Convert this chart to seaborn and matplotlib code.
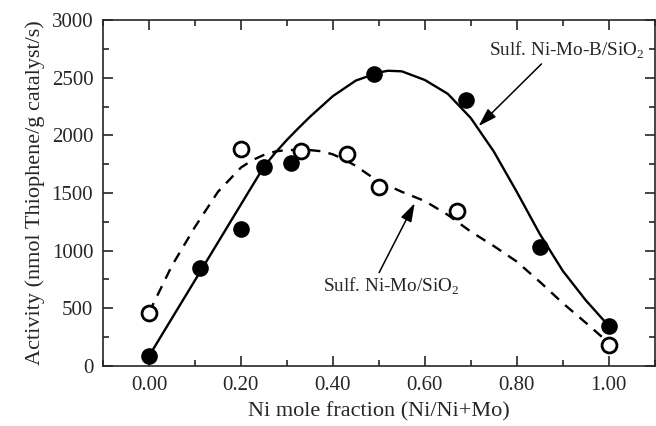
import numpy as np
import pandas as pd
import matplotlib
matplotlib.use("Agg")
import matplotlib.pyplot as plt
import seaborn as sns
from matplotlib.ticker import MultipleLocator, FormatStrFormatter

# Measured points
nimob_x = [0.00, 0.11, 0.20, 0.25, 0.31, 0.49, 0.69, 0.85, 1.00]
nimob_y = [85, 847, 1188, 1728, 1757, 2532, 2306, 1030, 347]
nimo_x = [0.00, 0.20, 0.33, 0.43, 0.50, 0.67, 1.00]
nimo_y = [462, 1879, 1867, 1840, 1555, 1347, 182]

# Fitted curves
fitb_x = [0.00, 0.05, 0.10, 0.15, 0.20, 0.25, 0.275, 0.30, 0.325, 0.35, 0.40,
          0.45, 0.50, 0.52, 0.55, 0.60, 0.65, 0.70, 0.75, 0.80, 0.85, 0.90,
          0.95, 1.00]
nimob_fit = [85, 414, 742, 1071, 1400, 1728, 1850, 1960, 2062, 2160, 2340,
             2475, 2545, 2560, 2555, 2480, 2360, 2150, 1860, 1510, 1145, 825,
             570, 347]
fita_x = [0.00, 0.05, 0.10, 0.15, 0.20, 0.225, 0.25, 0.275, 0.30, 0.35, 0.375,
          0.40, 0.425, 0.45, 0.475, 0.50, 0.55, 0.60, 0.65, 0.70, 0.75, 0.80,
          0.85, 0.90, 0.95, 1.00]
nimo_fit = [462, 870, 1205, 1510, 1720, 1785, 1830, 1860, 1873, 1872, 1862,
            1835, 1790, 1735, 1665, 1600, 1510, 1430, 1310, 1165, 1040, 905,
            730, 545, 375, 200]

label_b = "Sulf. Ni-Mo-B/SiO$_2$"
label_a = "Sulf. Ni-Mo/SiO$_2$"

sns.set_style("ticks")
plt.rcParams['font.family'] = ['Liberation Serif', 'DejaVu Serif']
plt.rcParams['mathtext.fontset'] = 'custom'
plt.rcParams['mathtext.rm'] = 'Liberation Serif'

fig = plt.figure(figsize=(6.56, 4.26), dpi=100)
ax = fig.add_axes([0.157, 0.141, 0.841, 0.812])

dfb = pd.DataFrame({"x": fitb_x, "y": nimob_fit})
dfa = pd.DataFrame({"x": fita_x, "y": nimo_fit})
sns.lineplot(data=dfb, x="x", y="y", ax=ax, color="black", lw=1.7)
sns.lineplot(data=dfa, x="x", y="y", ax=ax, color="black", lw=1.7)
ax.lines[-1].set_dashes([4.5, 3.5])

sns.scatterplot(x=nimob_x, y=nimob_y, ax=ax, s=120, color="black",
                edgecolor="black", linewidth=1.0, zorder=5)
sns.scatterplot(x=nimo_x, y=nimo_y, ax=ax, s=115, facecolor="white",
                edgecolor="black", linewidth=2.0, zorder=5)

ax.set_xlim(-0.1, 1.1)
ax.set_ylim(0, 3000)
ax.xaxis.set_major_locator(MultipleLocator(0.2))
ax.xaxis.set_minor_locator(MultipleLocator(0.1))
ax.xaxis.set_major_formatter(FormatStrFormatter('%.2f'))
ax.yaxis.set_major_locator(MultipleLocator(500))
ax.yaxis.set_minor_locator(MultipleLocator(250))
ax.tick_params(which='both', direction='in', top=True, right=True,
               width=1.2, labelsize=15, pad=7)
ax.tick_params(which='major', length=7)
ax.tick_params(which='minor', length=4)
for s in ax.spines.values():
    s.set_linewidth(1.2)

ax.set_xlabel("Ni mole fraction (Ni/Ni+Mo)", fontsize=16, labelpad=5)
ax.set_ylabel("Activity (nmol Thiophene/g catalyst/s)", fontsize=16, labelpad=5)

astyle = "-|>,head_length=0.7,head_width=0.22"
ax.annotate(label_b, xy=(0.717, 2080), xytext=(0.739, 2740),
            fontsize=13.8, va='center', ha='left',
            arrowprops=dict(arrowstyle=astyle, color='black', lw=1.1,
                            mutation_scale=16, shrinkA=0, shrinkB=0,
                            relpos=(0.36, 0.0)))
ax.annotate(label_a, xy=(0.578, 1411), xytext=(0.378, 688),
            fontsize=13.8, va='center', ha='left',
            arrowprops=dict(arrowstyle=astyle, color='black', lw=1.1,
                            mutation_scale=16, shrinkA=0, shrinkB=0,
                            relpos=(0.40, 1.0)))

fig.savefig("out.png", dpi=100)
